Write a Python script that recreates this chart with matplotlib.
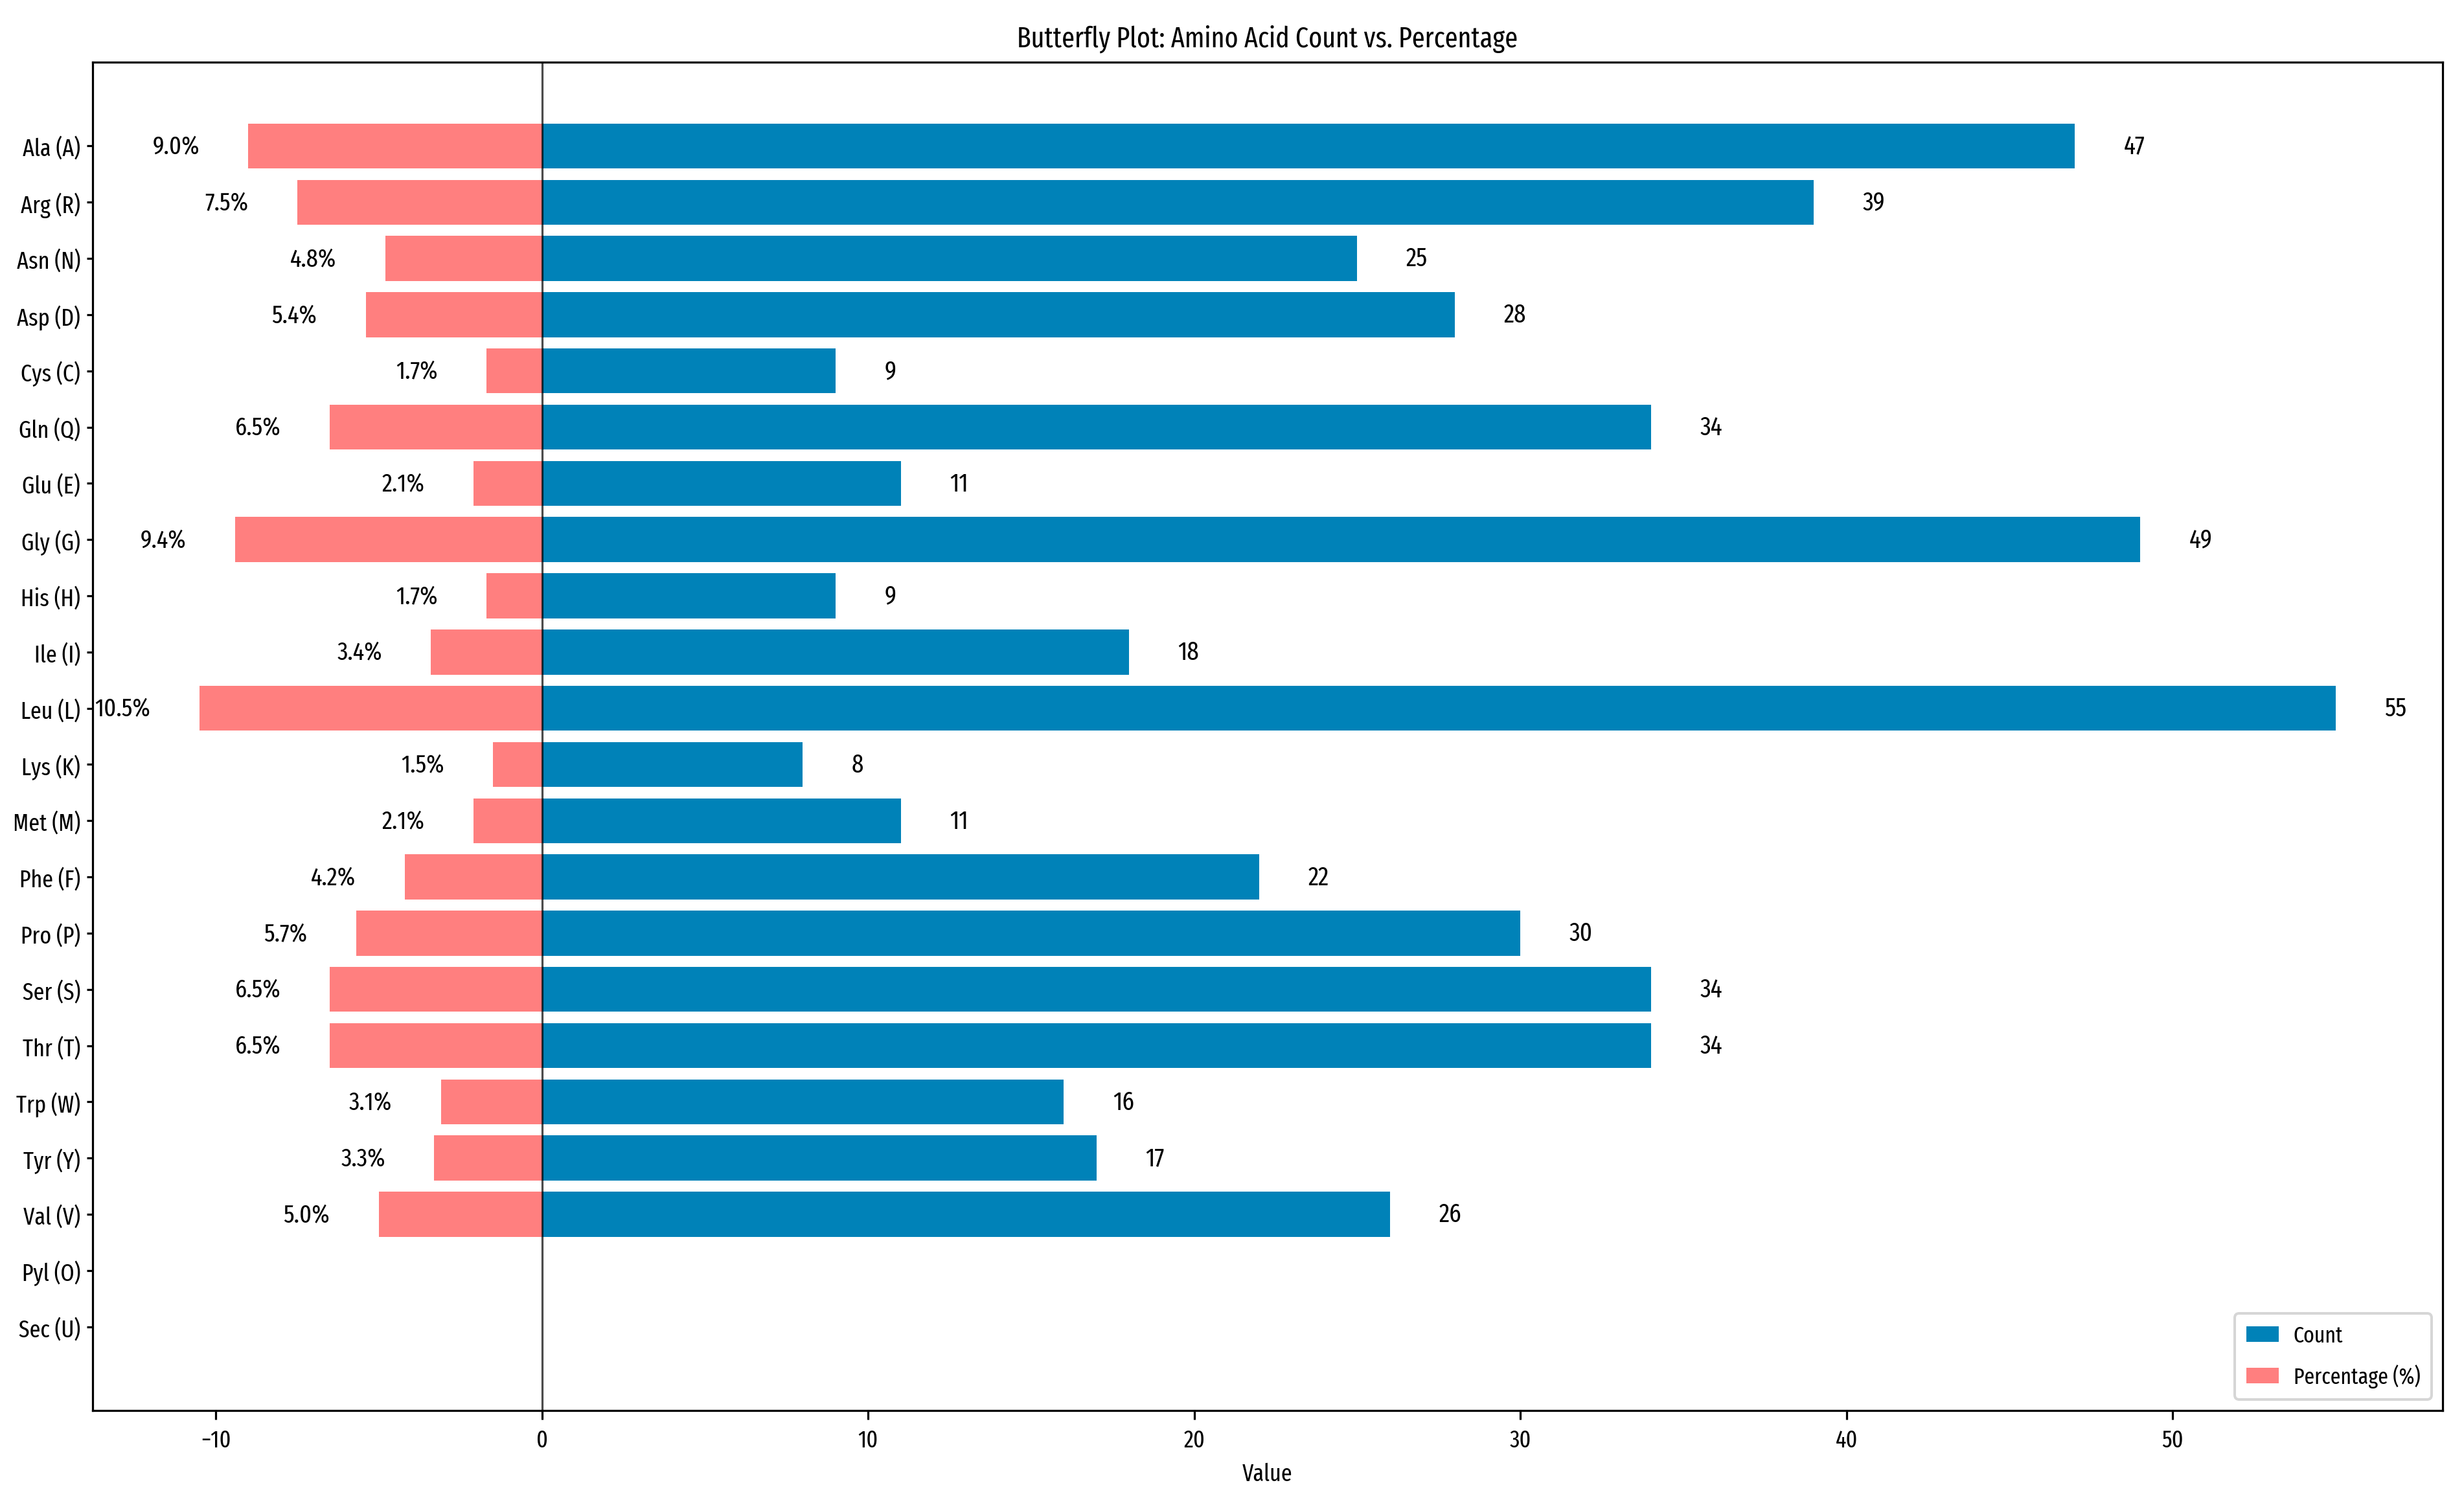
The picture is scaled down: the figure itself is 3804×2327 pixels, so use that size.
import os
import matplotlib
matplotlib.use("Agg")
import matplotlib.pyplot as plt
from matplotlib import font_manager
import numpy as np

# amino acids, top to bottom
amino_acids = ["Ala (A)", "Arg (R)", "Asn (N)", "Asp (D)", "Cys (C)", "Gln (Q)",
               "Glu (E)", "Gly (G)", "His (H)", "Ile (I)", "Leu (L)", "Lys (K)",
               "Met (M)", "Phe (F)", "Pro (P)", "Ser (S)", "Thr (T)", "Trp (W)",
               "Tyr (Y)", "Val (V)", "Pyl (O)", "Sec (U)"]
# residue counts
counts = [47, 39, 25, 28, 9, 34, 11, 49, 9, 18, 55, 8, 11, 22, 30, 34, 34, 16, 17, 26, 0, 0]
# share of the sequence in percent
percentages = [9.0, 7.5, 4.8, 5.4, 1.7, 6.5, 2.1, 9.4, 1.7, 3.4, 10.5, 1.5, 2.1, 4.2,
               5.7, 6.5, 6.5, 3.1, 3.3, 5.0, 0.0, 0.0]

# the chart uses a narrow face; pick the narrowest regular one that is installed
bad_words = ["bold", "italic", "oblique", "light", "thin", "medium", "black", "heavy", "semibold", "extrabold"]
rank_words = [("extracondensed", 0), ("ultracondensed", 0), ("semicondensed", 2), ("condensed", 1), ("narrow", 1)]
best_path, best_rank = None, 99
for f in font_manager.fontManager.ttflist:
    base = os.path.basename(f.fname).lower().replace("-", "").replace("_", "")
    if any(w in base for w in bad_words):
        continue
    for word, rank in rank_words:
        if word in base:
            if rank < best_rank:
                best_path, best_rank = f.fname, rank
            break

if best_path is not None:
    def fp(size):
        return font_manager.FontProperties(fname=best_path, size=size)
else:
    def fp(size):
        return font_manager.FontProperties(family="DejaVu Sans", size=size * 0.8)

y = np.arange(len(amino_acids))

fig = plt.figure(figsize=(3804 / 290, 2328 / 290), dpi=290)
ax = fig.add_axes([0.0376, 0.0640, 0.9537, 0.8943])

ax.barh(y, counts, height=0.8, color="#0082B8", label="Count")
ax.barh(y, [-p for p in percentages], height=0.8, color="red", alpha=0.5, label="Percentage (%)")
ax.axvline(0, color="black", linewidth=0.8, alpha=0.7)

# value labels next to each bar (skip empty rows)
for i in range(len(amino_acids)):
    if counts[i] > 0:
        ax.text(counts[i] + 1.5, y[i], str(counts[i]), ha="left", va="center", fontproperties=fp(10))
    if percentages[i] > 0:
        ax.text(-percentages[i] - 1.5, y[i], f"{percentages[i]:.1f}%", ha="right", va="center",
                fontproperties=fp(9.8))

ax.set_yticks(y)
ax.set_yticklabels(amino_acids, fontproperties=fp(9.2))
ax.tick_params(axis="y", length=2.2, pad=2.5)
ax.invert_yaxis()
for lab in ax.get_xticklabels():
    lab.set_fontproperties(fp(9.2))
ax.set_xlabel("Value", fontproperties=fp(9.2))
ax.set_title("Butterfly Plot: Amino Acid Count vs. Percentage", fontproperties=fp(10.8))
ax.legend(loc="lower right", prop=fp(8.6), handlelength=1.45, handletextpad=0.65,
          labelspacing=0.8, borderpad=0.5)

plt.savefig("out.png", dpi=290)
